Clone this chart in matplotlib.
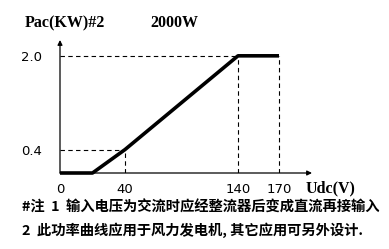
import numpy as np
import matplotlib
matplotlib.use("Agg")
import matplotlib.pyplot as plt

# ---------- Data ----------
udc = [0, 20, 40, 140, 170]
pac = [0.0, 0.0, 0.4, 2.0, 2.0]
x_ticks = [0, 40, 140, 170]
y_ticks = [0.4, 2.0]
y_tick_labels = ["0.4", "2.0"]

# schematic (non-linear) x axis: data value -> pixel offset from origin
scale_data = [0, 40, 140, 170, 200]
scale_px = [0, 65, 178, 219, 252]


def fwd(v):
    return np.interp(v, scale_data, scale_px)


def inv(p):
    return np.interp(p, scale_px, scale_data)


W, H = 389, 249
fig = plt.figure(figsize=(W / 100, H / 100), dpi=100)
ax = fig.add_axes([60 / W, (H - 173) / H, 252 / W, 133 / H])
ax.set_xscale("function", functions=(fwd, inv))
ax.set_xlim(0, 200)
ax.set_ylim(0, 2.27)

# ---------- Draw ----------
ax.plot(udc, pac, color="black", linewidth=2.6, solid_capstyle="butt", zorder=3, clip_on=False)

dash = dict(color="black", linewidth=0.8, linestyle=(0, (4, 3)), zorder=2)
ax.plot([0, 140], [2.0, 2.0], **dash)
ax.plot([140, 140], [0, 2.0], **dash)
ax.plot([170, 170], [0, 2.0], **dash)
ax.plot([0, 40], [0.4, 0.4], **dash)
ax.plot([40, 40], [0, 0.4], **dash)

# axes with arrows
for s in ax.spines.values():
    s.set_visible(False)
ax.annotate("", xy=(1.0, 0), xytext=(0, 0), xycoords="axes fraction",
            arrowprops=dict(arrowstyle="-|>", color="black", lw=0.9,
                            mutation_scale=7, shrinkA=0, shrinkB=0))
ax.annotate("", xy=(0, 1.0), xytext=(0, 0), xycoords="axes fraction",
            arrowprops=dict(arrowstyle="-|>", color="black", lw=0.9,
                            mutation_scale=7, shrinkA=0, shrinkB=0))

ax.set_xticks(x_ticks)
ax.set_xticklabels([str(t) for t in x_ticks])
ax.set_yticks(y_ticks)
ax.set_yticklabels(y_tick_labels)
ax.tick_params(axis="x", length=0, pad=7, labelsize=9.5)
ax.tick_params(axis="y", length=0, pad=13, labelsize=9.5)

serif = dict(family="Liberation Serif", fontweight="bold", fontsize=11.5)
fig.text(25 / W, 1 - 23 / H, "Pac(KW)#2", ha="left", va="center", **serif)
fig.text(150 / W, 1 - 23 / H, "2000W", ha="left", va="center", **serif)
fig.text(306 / W, 1 - 188 / H, "Udc(V)", ha="left", va="center", **serif)

cjk = dict(family=["Noto Sans CJK SC", "DejaVu Sans"], fontweight="bold", fontsize=10.3)
fig.text(22 / W, 1 - 208 / H, "#注  1  输入电压为交流时应经整流器后变成直流再接输入",
         ha="left", va="center", **cjk)
fig.text(22 / W, 1 - 230 / H, "2  此功率曲线应用于风力发电机, 其它应用可另外设计.",
         ha="left", va="center", **cjk)

fig.savefig("out.png", dpi=100)
